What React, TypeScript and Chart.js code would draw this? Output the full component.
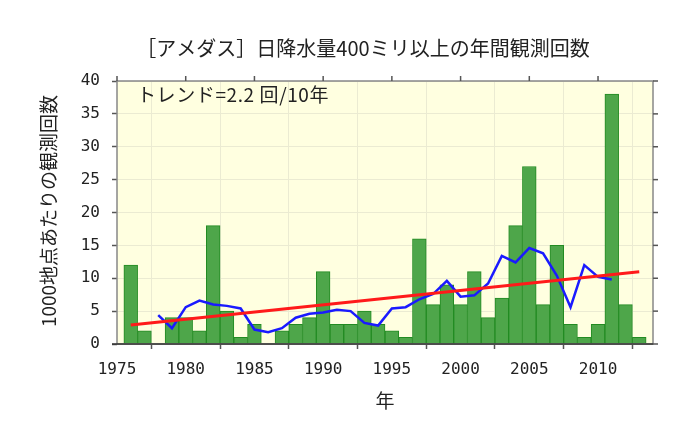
import React, { useEffect, useRef } from "react";
import { Chart, registerables } from "chart.js";

Chart.register(...registerables);

const TITLE = "［アメダス］日降水量400ミリ以上の年間観測回数";
const Y_TITLE = "1000地点あたりの観測回数";
const X_TITLE = "年";
const TREND_LABEL = "トレンド=2.2 回/10年";

const years = [
  1976, 1977, 1978, 1979, 1980, 1981, 1982, 1983, 1984, 1985,
  1986, 1987, 1988, 1989, 1990, 1991, 1992, 1993, 1994, 1995,
  1996, 1997, 1998, 1999, 2000, 2001, 2002, 2003, 2004, 2005,
  2006, 2007, 2008, 2009, 2010, 2011, 2012, 2013,
];
const counts = [
  12, 2, 0, 4, 4, 2, 18, 5, 1, 3,
  0, 2, 3, 4, 11, 3, 3, 5, 3, 2,
  1, 16, 6, 9, 6, 11, 4, 7, 18, 27,
  6, 15, 3, 1, 3, 38, 6, 1,
];
const avgYears = [
  1978, 1979, 1980, 1981, 1982, 1983, 1984, 1985, 1986, 1987,
  1988, 1989, 1990, 1991, 1992, 1993, 1994, 1995, 1996, 1997,
  1998, 1999, 2000, 2001, 2002, 2003, 2004, 2005, 2006, 2007,
  2008, 2009, 2010, 2011,
];
const avgValues = [
  4.4, 2.4, 5.6, 6.6, 6.0, 5.8, 5.4, 2.2, 1.8, 2.4,
  4.0, 4.6, 4.8, 5.2, 5.0, 3.2, 2.8, 5.4, 5.6, 6.8,
  7.6, 9.6, 7.2, 7.4, 9.2, 13.4, 12.4, 14.6, 13.8, 10.4,
  5.6, 12.0, 10.2, 9.8,
];
const trendYears = [1976, 2013];
const trendValues = [2.9, 11.0];

const X_MIN = 1975;
const X_MAX = 2014;
const Y_MIN = 0;
const Y_MAX = 40;

const NUM_FONT = '"DejaVu Sans Mono", monospace';
const JP_FONT = '"Noto Sans CJK JP", "Noto Sans", sans-serif';

const decorPlugin = {
  id: "decor",
  beforeDraw(chart: any) {
    const { ctx, chartArea: a } = chart;
    ctx.save();
    ctx.fillStyle = "#ffffff";
    ctx.fillRect(0, 0, chart.width, chart.height);
    ctx.fillStyle = "#ffffe0";
    ctx.fillRect(a.left, a.top, a.right - a.left, a.bottom - a.top);
    ctx.restore();
  },
  afterDraw(chart: any) {
    const { ctx, chartArea: a, scales } = chart;
    ctx.save();
    ctx.strokeStyle = "#888888";
    ctx.lineWidth = 1.5;
    ctx.strokeRect(a.left, a.top, a.right - a.left, a.bottom - a.top);
    ctx.strokeStyle = "#333333";
    ctx.lineWidth = 1.5;
    ctx.beginPath();
    ctx.moveTo(a.left - 5, a.bottom);
    ctx.lineTo(a.right, a.bottom);
    ctx.stroke();
    ctx.strokeStyle = "#555555";
    ctx.lineWidth = 1.5;
    scales.x.ticks.forEach((t: any) => {
      const px = scales.x.getPixelForValue(t.value);
      ctx.beginPath();
      ctx.moveTo(px, a.top - 5);
      ctx.lineTo(px, a.top);
      ctx.stroke();
    });
    scales.y.ticks.forEach((t: any) => {
      const py = scales.y.getPixelForValue(t.value);
      ctx.beginPath();
      ctx.moveTo(a.right, py);
      ctx.lineTo(a.right + 5, py);
      ctx.stroke();
    });
    ctx.fillStyle = "#222222";
    ctx.textBaseline = "middle";
    ctx.textAlign = "center";
    ctx.font = `20px ${JP_FONT}`;
    ctx.fillText(TITLE, 363, 48);
    ctx.font = `19px ${JP_FONT}`;
    ctx.fillText(X_TITLE, (a.left + a.right) / 2, 401);
    ctx.textAlign = "left";
    try { (ctx as any).letterSpacing = "0.6px"; } catch (e) {}
    ctx.fillText(TREND_LABEL, 137, 95);
    try { (ctx as any).letterSpacing = "0px"; } catch (e) {}
    ctx.save();
    ctx.translate(49, 211);
    ctx.rotate(-Math.PI / 2);
    ctx.textAlign = "center";
    ctx.fillText(Y_TITLE, 0, 0);
    ctx.restore();
    ctx.restore();
  },
};

export default function App() {
  const ref = useRef<HTMLCanvasElement | null>(null);
  useEffect(() => {
    if (!ref.current) return;
    const chart = new Chart(ref.current, {
      type: "bar",
      data: {
        datasets: [
          {
            type: "line",
            data: trendYears.map((x, i) => ({ x, y: trendValues[i] })),
            borderColor: "#ff1a1a",
            borderWidth: 3,
            pointRadius: 0,
            order: 1,
          } as any,
          {
            type: "line",
            data: avgYears.map((x, i) => ({ x, y: avgValues[i] })),
            borderColor: "#1a1aff",
            borderWidth: 2.5,
            pointRadius: 0,
            tension: 0,
            order: 2,
          } as any,
          {
            type: "bar",
            data: years.map((x, i) => ({ x, y: counts[i] })),
            backgroundColor: "#4ea64a",
            borderColor: "#228b22",
            borderWidth: 1,
            barPercentage: 1,
            categoryPercentage: 1,
            order: 3,
          } as any,
        ],
      },
      options: {
        animation: false,
        responsive: false,
        maintainAspectRatio: false,
        layout: { padding: { left: 0, top: 81, right: 47, bottom: 0 } },
        plugins: {
          legend: { display: false },
          title: { display: false },
          tooltip: { enabled: false },
        },
        scales: {
          x: {
            type: "linear",
            min: X_MIN,
            max: X_MAX,
            offset: false,
            ticks: {
              stepSize: 5,
              includeBounds: false,
              callback: (v: any) => String(v),
              font: { family: NUM_FONT, size: 16 },
              color: "#222222",
              padding: 11,
              maxRotation: 0,
            },
            grid: {
              color: "#ebebd2",
              tickLength: 5,
              tickColor: "#555555",
              tickWidth: 1.5,
            },
            border: { display: false },
            afterFit: (s: any) => {
              s.height = 84;
            },
          },
          y: {
            min: Y_MIN,
            max: Y_MAX,
            ticks: {
              stepSize: 5,
              font: { family: NUM_FONT, size: 16 },
              color: "#222222",
              padding: 12,
            },
            grid: {
              color: "#ebebd2",
              tickLength: 5,
              tickColor: "#555555",
              tickWidth: 1.5,
            },
            border: { display: false },
            afterFit: (s: any) => {
              s.width = 117;
            },
          },
        },
      } as any,
      plugins: [decorPlugin],
    });
    return () => chart.destroy();
  }, []);
  return (
    <div style={{ position: "fixed", left: 0, top: 0, width: 700, height: 428, background: "#fff" }}>
      <canvas ref={ref} width={700} height={428} style={{ width: 700, height: 428 }} />
    </div>
  );
}
